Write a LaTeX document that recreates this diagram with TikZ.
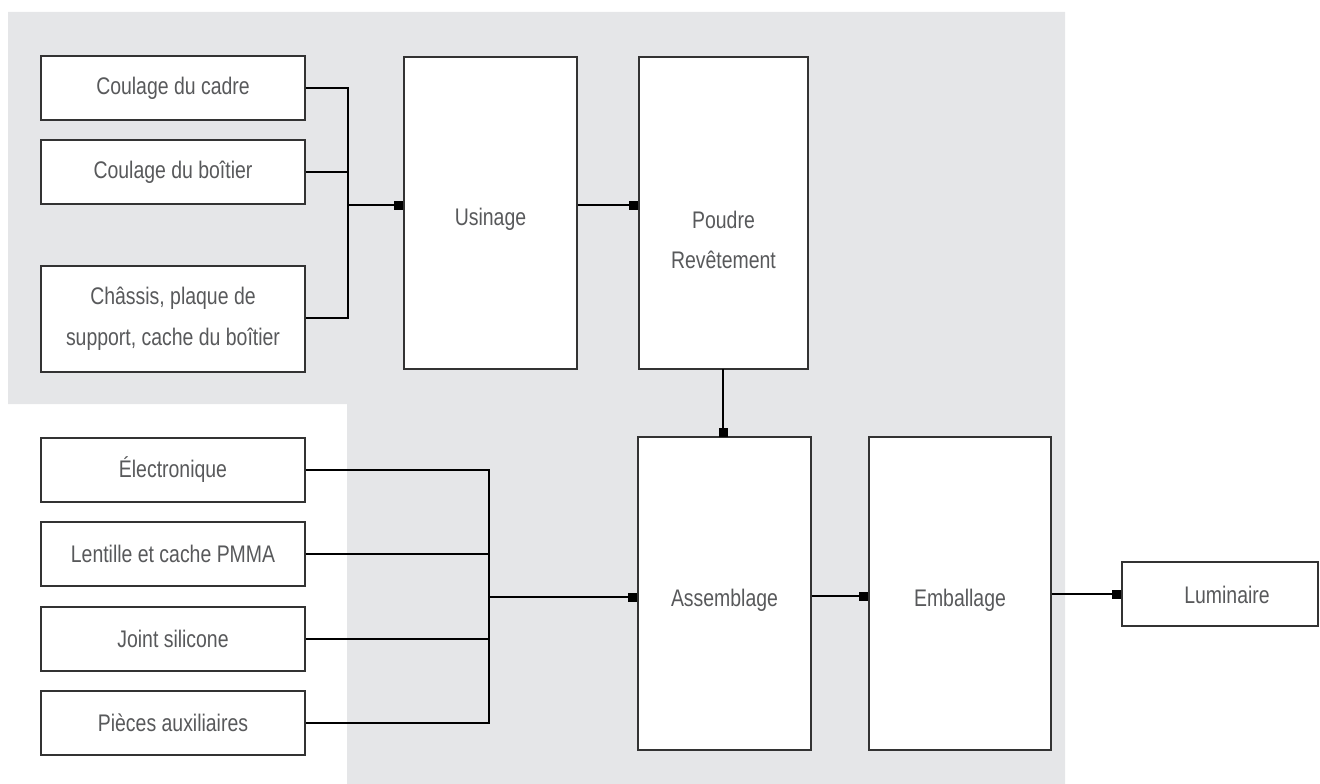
\documentclass[tikz,border=0pt]{standalone}
\usepackage{fontspec}
\setmainfont[FakeStretch=0.81]{Liberation Sans}
\usetikzlibrary{arrows.meta}
\definecolor{bggray}{HTML}{E5E6E8}
\definecolor{txtgray}{HTML}{58595B}
\definecolor{edgegray}{HTML}{333333}
\tikzset{
  box/.style={draw=edgegray, line width=1.3pt, fill=white, rectangle, inner sep=0pt,
    text=txtgray, align=center, font=\fontsize{24}{41}\selectfont},
  smallbox/.style={box, minimum width=264pt, minimum height=64pt},
  tallbox/.style={box, minimum height=312pt},
  wire/.style={draw=black, line width=1.8pt},
  feed/.style={wire, -{Square[length=9pt,width=9pt]}},
  lbl/.style={text=txtgray, align=center, inner sep=0pt, font=\fontsize{24}{40}\selectfont}
}
\begin{document}
\begin{tikzpicture}[x=1pt,y=-1pt]
\useasboundingbox (0,0) rectangle (1320,784);
% background
\fill[bggray] (8,12) -- (1065,12) -- (1065,784) -- (347,784) -- (347,404) -- (8,404) -- cycle;

% upper inputs
\node[smallbox] (c1) at (173,88) {Coulage du cadre};
\node[smallbox] (c2) at (173,172) {Coulage du boîtier};
\node[smallbox, minimum height=106pt] (c3) at (173,319) {Châssis, plaque de\\support, cache du boîtier};

% process blocks
\node[tallbox, minimum width=173pt] (usin) at (490.5,213) {};
\node[lbl] (usintxt) at (490.5,219) {Usinage};
\node[tallbox, minimum width=169pt] (poud) at (723.5,213) {};
\node[lbl] (poudtxt) at (723.5,240) {Poudre\\Revêtement};

% lower inputs
\node[smallbox] (e1) at (173,470) {Électronique};
\node[smallbox] (e2) at (173,554) {Lentille et cache PMMA};
\node[smallbox] (e3) at (173,639) {Joint silicone};
\node[smallbox] (e4) at (173,723) {Pièces auxiliaires};

\node[tallbox, minimum width=173pt, minimum height=313pt] (assem) at (724.5,593.5) {};
\node[lbl] (assemtxt) at (724.5,600) {Assemblage};
\node[tallbox, minimum width=182pt, minimum height=313pt] (emb) at (960,593.5) {};
\node[lbl] (embtxt) at (960,600) {Emballage};
\node[box, minimum width=196pt, minimum height=64pt] (lum) at (1220,594) {};
\node[lbl] (lumtxt) at (1227,595) {Luminaire};

% upper bus
\coordinate (b1) at (348,88);
\coordinate (b3) at (348,318);
\coordinate (j1) at (348,205);
\draw[wire] (c1.east) -- (b1) -- (b3) -- (c3.east |- b3);
\draw[wire] (c2.east) -- (c2.east -| b1);
\draw[feed] (j1) -- (usin.west |- j1);
\draw[feed] (usin.east |- j1) -- (poud.west |- j1);
\draw[feed] (723,369) -- (723,437);

% lower bus
\coordinate (d1) at (489,470);
\coordinate (d4) at (489,723);
\coordinate (j2) at (489,597);
\draw[wire] (e1.east) -- (d1) -- (d4) -- (e4.east);
\draw[wire] (e2.east) -- (e2.east -| d1);
\draw[wire] (e3.east) -- (e3.east -| d1);
\draw[feed] (j2) -- (assem.west |- j2);
\draw[feed] (assem.east |- 0,596) -- (emb.west |- 0,596);
\draw[feed] (emb.east |- lum.west) -- (lum.west);
\end{tikzpicture}
\end{document}
